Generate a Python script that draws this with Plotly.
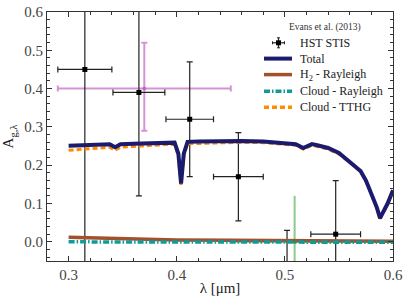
import plotly.graph_objects as go

# ---- data ----
wl = [0.300, 0.310, 0.320, 0.330, 0.338, 0.343, 0.348, 0.360, 0.370, 0.380,
      0.390, 0.398, 0.4015, 0.404, 0.4065, 0.410, 0.420, 0.440, 0.460, 0.480,
      0.500, 0.510, 0.517, 0.525, 0.530, 0.540, 0.550, 0.560, 0.570, 0.575,
      0.580, 0.585, 0.588, 0.595, 0.600]
total = [0.251, 0.252, 0.253, 0.254, 0.255, 0.247, 0.255, 0.256, 0.257, 0.258,
         0.259, 0.259, 0.230, 0.152, 0.230, 0.261, 0.262, 0.263, 0.263, 0.262,
         0.258, 0.255, 0.245, 0.255, 0.252, 0.245, 0.232, 0.210, 0.185, 0.160,
         0.127, 0.090, 0.062, 0.100, 0.135]
tthg = [0.239, 0.241, 0.243, 0.245, 0.247, 0.239, 0.247, 0.249, 0.251, 0.252,
        0.254, 0.254, 0.225, 0.148, 0.225, 0.256, 0.257, 0.259, 0.260, 0.259,
        0.255, 0.252, 0.242, 0.252, 0.249, 0.242, 0.229, 0.208, 0.183, 0.158,
        0.125, 0.088, 0.060, 0.098, 0.133]
h2_wl = [0.30, 0.33, 0.35, 0.40, 0.45, 0.50, 0.55, 0.60]
h2_ray = [0.012, 0.010, 0.008, 0.005, 0.004, 0.003, 0.002, 0.0015]
cloud_wl = [0.30, 0.40, 0.50, 0.60]
cloud_ray = [0.000, 0.000, -0.001, -0.001]

hst_x = [0.315, 0.365, 0.412, 0.457, 0.502, 0.547]
hst_y = [0.45, 0.39, 0.32, 0.17, -0.09, 0.02]
hst_yerr = [0.55, 0.27, 0.15, 0.115, 0.12, 0.14]
hst_xerr = [0.025, 0.024, 0.022, 0.023, 0.023, 0.023]

mag_x = [0.37]
mag_y = [0.40]
mag_yerr_plus = [0.12]
mag_yerr_minus = [0.11]
mag_xerr = [0.08]

grn_x = [0.509]
grn_y = [0.0]
grn_yerr = [0.12]
grn_xerr = [0.06]

legend_title = "Evans et al. (2013)"
legend_labels = ["HST STIS", "Total", "H<sub>2</sub> - Rayleigh",
                 "Cloud - Rayleigh", "Cloud - TTHG"]

FONT = "Liberation Serif"
C_TOTAL = "#1b1a6e"
C_H2 = "#a0522d"
C_CR = "#129a98"
C_TTHG = "#ff8c00"
DASH_CR = "6px,2px,1.5px,2px"
DASH_TTHG = "5px,3px"

fig = go.Figure()

fig.add_trace(go.Scatter(
    x=mag_x, y=mag_y, mode="markers", showlegend=False,
    marker=dict(color="rgba(190,90,190,0.75)", size=4),
    error_y=dict(type="data", symmetric=False, array=mag_yerr_plus,
                 arrayminus=mag_yerr_minus, color="rgba(200,110,200,0.75)",
                 thickness=2, width=3),
    error_x=dict(type="data", array=mag_xerr, color="rgba(200,110,200,0.75)",
                 thickness=2, width=3),
))
fig.add_trace(go.Scatter(
    x=grn_x, y=grn_y, mode="markers", showlegend=False,
    marker=dict(color="rgba(40,120,40,0.8)", size=4),
    error_y=dict(type="data", array=grn_yerr, color="rgba(90,180,90,0.7)",
                 thickness=2, width=0),
    error_x=dict(type="data", array=grn_xerr, color="rgba(90,180,90,0.7)",
                 thickness=2, width=0),
))

fig.add_trace(go.Scatter(
    x=hst_x, y=hst_y, mode="markers", name="HST STIS", showlegend=False,
    marker=dict(color="black", size=5, symbol="square"),
    error_y=dict(type="data", array=hst_yerr, color="#222222", thickness=1.2, width=3),
    error_x=dict(type="data", array=hst_xerr, color="#222222", thickness=1.2, width=3),
))

fig.add_trace(go.Scatter(x=h2_wl, y=h2_ray, mode="lines", name="H2 - Rayleigh",
                         showlegend=False, line=dict(color=C_H2, width=3.5)))
fig.add_trace(go.Scatter(x=cloud_wl, y=cloud_ray, mode="lines", name="Cloud - Rayleigh",
                         showlegend=False, line=dict(color=C_CR, width=3.5, dash=DASH_CR)))
fig.add_trace(go.Scatter(x=wl, y=tthg, mode="lines", name="Cloud - TTHG",
                         showlegend=False, line=dict(color=C_TTHG, width=3, dash=DASH_TTHG)))
fig.add_trace(go.Scatter(x=wl, y=total, mode="lines", name="Total",
                         showlegend=False, line=dict(color=C_TOTAL, width=4)))

axis_common = dict(
    showline=True, linecolor="#333333", linewidth=1.2, mirror="allticks",
    ticks="inside", ticklen=5, tickcolor="#333333", tickwidth=1,
    showgrid=False, zeroline=False, automargin=False,
    tickfont=dict(family=FONT, size=15, color="#444444"),
)

fig.update_xaxes(range=[0.28, 0.6], dtick=0.1, tick0=0.3, tickformat=".1f",
                 minor=dict(dtick=0.02, ticks="inside", ticklen=3, tickcolor="#333333"),
                 title=dict(text="λ [μm]", font=dict(family=FONT, size=15, color="#222222"),
                            standoff=0),
                 **axis_common)
fig.update_yaxes(range=[-0.05, 0.6], dtick=0.1, tick0=0.0, tickformat=".1f",
                 minor=dict(dtick=0.02, ticks="inside", ticklen=3, tickcolor="#333333"),
                 title=dict(text="A<sub>g,λ</sub>", font=dict(family=FONT, size=15, color="#222222"),
                            standoff=6),
                 **axis_common)

# ---- hand-built legend (paper coordinates) ----
L, T, W, H = 47, 12, 346, 249
def px(x):
    return (x - L) / W
def py(y):
    return (T + H - y) / H

shapes = []
annotations = []
annotations.append(dict(x=px(325), y=py(27.5), xref="paper", yref="paper",
                        text=legend_title, showarrow=False, xanchor="center", yanchor="middle",
                        font=dict(family=FONT, size=9.5, color="#333333")))
row_y = [42.8, 58.6, 74.6, 91.2, 107.2]
for lab, yy in zip(legend_labels, row_y):
    annotations.append(dict(x=px(298), y=py(yy), xref="paper", yref="paper",
                            text=lab, showarrow=False, xanchor="left", yanchor="middle",
                            font=dict(family=FONT, size=12, color="#222222")))
# HST symbol: cross + square
cx, cy = 278.5, row_y[0]
shapes.append(dict(type="line", xref="paper", yref="paper", x0=px(272.5), x1=px(284.5),
                   y0=py(cy), y1=py(cy), line=dict(color="#222222", width=1.2)))
shapes.append(dict(type="line", xref="paper", yref="paper", x0=px(cx), x1=px(cx),
                   y0=py(cy - 5), y1=py(cy + 5), line=dict(color="#222222", width=1.2)))
for xe in (272.5, 284.5):
    shapes.append(dict(type="line", xref="paper", yref="paper", x0=px(xe), x1=px(xe),
                       y0=py(cy - 1.5), y1=py(cy + 1.5), line=dict(color="#222222", width=1)))
for ye in (cy - 5, cy + 5):
    shapes.append(dict(type="line", xref="paper", yref="paper", x0=px(cx - 1.5), x1=px(cx + 1.5),
                       y0=py(ye), y1=py(ye), line=dict(color="#222222", width=1)))
shapes.append(dict(type="rect", xref="paper", yref="paper", x0=px(cx - 2.5), x1=px(cx + 2.5),
                   y0=py(cy - 2.5), y1=py(cy + 2.5), fillcolor="black", line=dict(width=0)))
# line samples
samples = [(C_TOTAL, 4, "solid"), (C_H2, 3.5, "solid"), (C_CR, 3.5, DASH_CR),
           (C_TTHG, 3.5, DASH_TTHG)]
for (col, wd, ds), yy in zip(samples, row_y[1:]):
    shapes.append(dict(type="line", xref="paper", yref="paper", x0=px(264), x1=px(292),
                       y0=py(yy), y1=py(yy), line=dict(color=col, width=wd, dash=ds)))

fig.update_layout(
    template="none",
    width=407, height=304,
    margin=dict(l=47, r=14, t=12, b=43),
    paper_bgcolor="white", plot_bgcolor="white",
    font=dict(family=FONT, color="#222222"),
    showlegend=False,
    shapes=shapes,
    annotations=annotations,
)

fig.write_html("out.html", config={"displayModeBar": False},
               post_script="document.body.style.margin='0';document.body.style.overflow='hidden';")
